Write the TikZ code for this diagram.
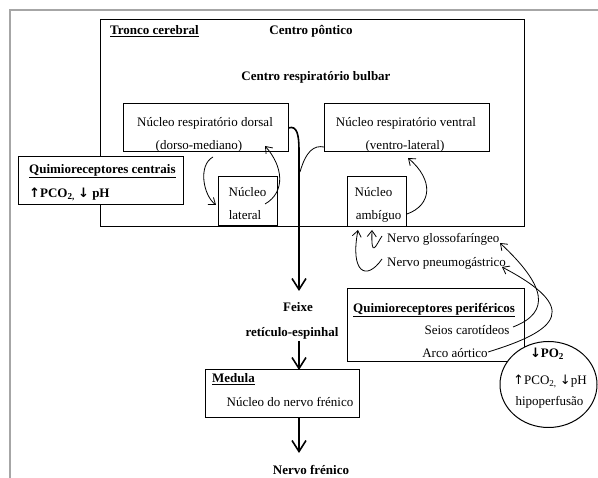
\documentclass[tikz,border=0pt]{standalone}
\usepackage{fontspec}
\setmainfont{Liberation Serif}
\newfontfamily\arrfont{DejaVu Sans}
\newcommand{\UpA}{{\arrfont\bfseries ↑}}
\newcommand{\DnA}{{\arrfont\bfseries ↓}}
\newcommand{\UpT}{{\arrfont ↑}}
\newcommand{\DnT}{{\arrfont ↓}}
\usetikzlibrary{arrows.meta,shapes.geometric}
\begin{document}
\begin{tikzpicture}[x=1pt,y=-1pt,
  box/.style={draw, line width=1pt, fill=white, inner sep=0pt},
  txt/.style={inner sep=0pt, text height=9pt, text depth=0pt, font=\fontsize{13}{15}\selectfont},
  btxt/.style={inner sep=0pt, text height=9pt, text depth=0pt, font=\fontsize{13}{15}\selectfont\bfseries},
  thinarr/.style={line width=0.8pt, -{Straight Barb[length=6pt,width=9pt]}},
  thickarr/.style={line width=1.6pt, -{Straight Barb[length=11pt,width=14pt]}}]
\useasboundingbox (0,0) rectangle (598,478);
\fill[white] (0,0) rectangle (598,478);
\draw[gray!70, line width=1.2pt] (10,478) -- (10,10) -- (598,10);

% boxes
\node[box, minimum width=424pt, minimum height=207pt] (tronco) at (312,123.5) {};
\node[box, minimum width=165pt, minimum height=48pt] (nrd) at (205.5,128) {};
\node[box, minimum width=165pt, minimum height=48pt] (nrv) at (406.5,128) {};
\node[box, minimum width=59pt, minimum height=49pt] (lat) at (247.5,201.5) {};
\node[box, minimum width=59pt, minimum height=50pt] (amb) at (376.5,202) {};
\node[box, minimum width=165pt, minimum height=48pt] (qc) at (100.5,181) {};
\node[box, minimum width=177pt, minimum height=73pt] (qp) at (435.5,325.5) {};
\node[box, minimum width=154pt, minimum height=48pt] (med) at (282,394) {};
\node[draw, ellipse, line width=1pt, fill=white, minimum width=97pt, minimum height=86pt, inner sep=0pt] (ell) at (548.5,384.5) {};

% texts
\node[btxt, anchor=west] (ttronco) at (110,30) {\underline{Tronco cerebral}};
\node[btxt] (tpont) at (311,30) {Centro pôntico};
\node[btxt] (tbulb) at (316,76) {Centro respiratório bulbar};
\node[txt] (nrd1) at (205,122) {Núcleo respiratório dorsal};
\node[txt] (nrd2) at (199,145) {(dorso-mediano)};
\node[txt] (nrv1) at (406,122) {Núcleo respiratório ventral};
\node[txt] (nrv2) at (405,145) {(ventro-lateral)};
\node[btxt, anchor=west] (qc1) at (29,169) {\underline{Quimioreceptores centrais}};
\node[btxt, anchor=west] (qc2) at (29,193) {\UpA PCO\textsubscript{2,} \DnA{} pH};
\node[txt] (lat1) at (247.5,192) {Núcleo};
\node[txt] (lat2) at (245,215) {lateral};
\node[txt] (amb1) at (373.5,192) {Núcleo};
\node[txt] (amb2) at (378.5,215) {ambíguo};
\node[txt, anchor=west] (glosso) at (387,238) {Nervo glossofaríngeo};
\node[txt, anchor=west] (pneumo) at (387,262) {Nervo pneumogástrico};
\node[btxt] (feixe) at (298,307) {Feixe};
\node[btxt] (ret) at (292,332) {retículo-espinhal};
\node[btxt, anchor=west] (tmed) at (212,378) {\underline{Medula}};
\node[txt] (nnf) at (290,402) {Núcleo do nervo frénico};
\node[btxt] (nf) at (311,470) {Nervo frénico};
\node[btxt, anchor=west] (qp1) at (353,308) {\underline{Quimioreceptores periféricos}};
\node[txt] (seios) at (467,330) {Seios carotídeos};
\node[txt] (arco) at (455,353) {Arco aórtico};
\node[btxt] (po2) at (547,353) {\DnA PO\textsubscript{2}};
\node[txt] (pco2) at (550,380) {\UpT PCO\textsubscript{2,} \DnT pH};
\node[txt] (hipo) at (549.5,401) {hipoperfusão};

% coordinates for free ends
\coordinate (c1s) at (213,157);
\coordinate (c1e) at (216,205);
\coordinate (c2s) at (265,204);
\coordinate (c2e) at (265,146);
\coordinate (m1e) at (299,291);
\coordinate (vj) at (300,172);
\coordinate (nrvw) at (324,147);
\coordinate (ambs) at (407,214);
\coordinate (nrve) at (408,158);
\coordinate (gs) at (382,236);
\coordinate (ge) at (372,230);
\coordinate (ps) at (382,259);
\coordinate (pe) at (358,230);
\coordinate (ss) at (513,327);
\coordinate (se) at (500,243);
\coordinate (as) at (488,352);
\coordinate (ae) at (502,267);
\coordinate (a2s) at (299,341);
\coordinate (a2e) at (299,370);
\coordinate (a3s) at (299,418);
\coordinate (a3e) at (299,453);

% connectors
\draw[thinarr] (c1s) .. controls (198,165) and (203,195) .. (c1e);
\draw[thinarr] (c2s) .. controls (286,192) and (283,166) .. (c2e);
\draw[thickarr] (nrd.east) .. controls (297,125) and (299,135) .. (299,150) -- (m1e);
\draw[line width=0.8pt] (nrvw) .. controls (314,145) and (306,151) .. (vj);
\draw[thinarr] (ambs) .. controls (432,205) and (434,180) .. (nrve);
\draw[thinarr] (gs) .. controls (376,245) and (371,260) .. (ge);
\draw[thinarr] (ps) .. controls (366,282) and (350,272) .. (pe);
\draw[thinarr] (ss) .. controls (552,312) and (545,285) .. (se);
\draw[thinarr] (as) .. controls (560,330) and (580,308) .. (ae);
\draw[thickarr] (a2s) -- (a2e);
\draw[thickarr] (a3s) -- (a3e);
\end{tikzpicture}
\end{document}
